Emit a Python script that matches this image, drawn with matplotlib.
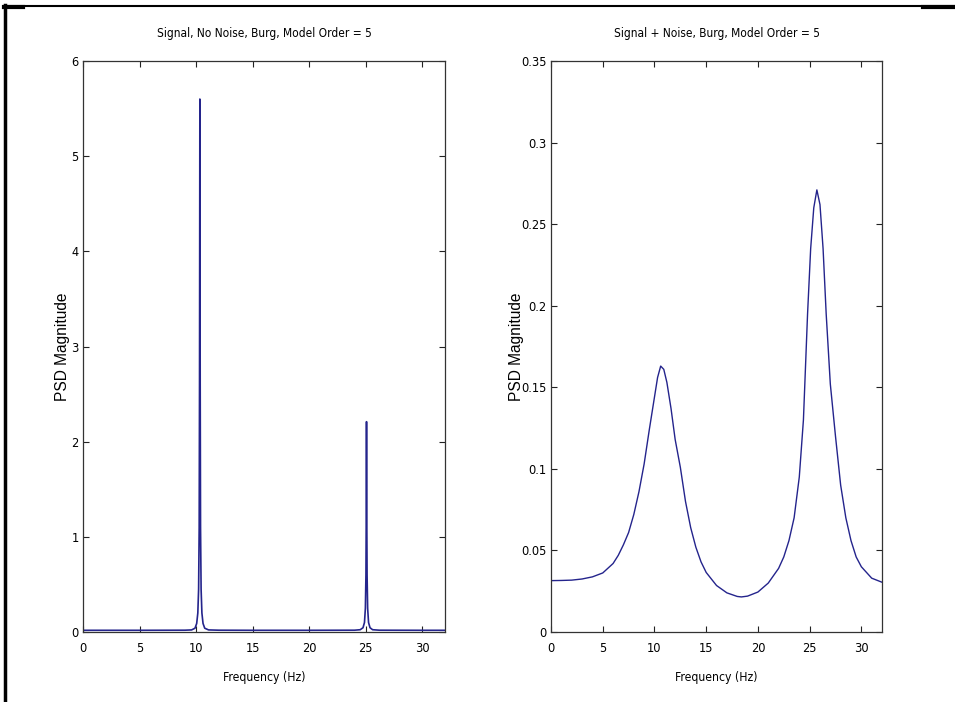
import matplotlib
matplotlib.use("Agg")
import matplotlib.pyplot as plt
from matplotlib import font_manager as fm
from matplotlib.lines import Line2D

# PSD, no noise (Burg, order 5) - very sharp peaks near 10.3 Hz and 25 Hz
freq_clean = [0, 5, 9.0, 9.6, 9.9, 10.05, 10.15, 10.22, 10.27, 10.30, 10.33, 10.36, 10.39,
              10.44, 10.51, 10.61, 10.76, 11.1, 12, 15, 20, 24.0, 24.5, 24.75, 24.88,
              24.96, 25.01, 25.035, 25.06, 25.085, 25.11, 25.16, 25.24, 25.37, 25.6, 26.2, 30, 32]
psd_clean = [0.018, 0.018, 0.019, 0.022, 0.04, 0.09, 0.2, 0.45, 1.1, 2.6, 5.6, 2.6, 1.1,
             0.45, 0.2, 0.09, 0.04, 0.022, 0.019, 0.018, 0.018, 0.019, 0.024, 0.045, 0.1,
             0.25, 0.6, 1.2, 2.21, 1.2, 0.6, 0.25, 0.1, 0.045, 0.024, 0.019, 0.018, 0.018]

# PSD, signal + noise (Burg, order 5) - broad peaks
freq_noisy = [0, 1, 2, 3, 4, 5, 6, 6.5, 7, 7.5, 8, 8.5, 9, 9.5, 10, 10.3, 10.6, 10.9,
              11.2, 11.6, 12, 12.5, 13, 13.5, 14, 14.5, 15, 16, 17, 18, 18.4, 19, 20, 21,
              22, 22.5, 23, 23.5, 24, 24.4, 24.8, 25.1, 25.4, 25.7, 26.0, 26.3, 26.6, 27.0,
              27.5, 28, 28.5, 29, 29.5, 30, 31, 32]
psd_noisy = [0.0315, 0.0316, 0.0318, 0.0325, 0.0338, 0.0362, 0.042, 0.047, 0.0535, 0.061,
             0.072, 0.086, 0.103, 0.124, 0.144, 0.156, 0.163, 0.161, 0.153, 0.137, 0.118,
             0.101, 0.080, 0.064, 0.052, 0.043, 0.0365, 0.0285, 0.024, 0.0218, 0.0215,
             0.022, 0.0245, 0.030, 0.039, 0.046, 0.056, 0.070, 0.095, 0.130, 0.195, 0.235,
             0.260, 0.271, 0.262, 0.235, 0.195, 0.152, 0.120, 0.090, 0.070, 0.056, 0.046,
             0.040, 0.033, 0.0305]

xticks = [0, 5, 10, 15, 20, 25, 30]
yticks_clean = [0, 1, 2, 3, 4, 5, 6]
yticks_noisy = [0, 0.05, 0.1, 0.15, 0.2, 0.25, 0.3, 0.35]
ytick_labels_noisy = ["0", "0.05", "0.1", "0.15", "0.2", "0.25", "0.3", "0.35"]

# look for a narrow/condensed face (matlab screenshot text is squeezed)
narrow_path = None
for f in fm.fontManager.ttflist:
    nm = (f.name + " " + f.fname).lower()
    if ("narrow" in nm or "condensed" in nm) and "bold" not in nm and "italic" not in nm \
            and "oblique" not in nm and f.weight in (400, "normal", "regular"):
        narrow_path = f.fname
        break

if narrow_path:
    def tfont(size):
        return fm.FontProperties(fname=narrow_path, size=size)
    tick_size, title_size, xl_size = 9.2, 8.6, 8.7
else:
    def tfont(size):
        return fm.FontProperties(family=["Liberation Sans", "DejaVu Sans"], size=size)
    tick_size, title_size, xl_size = 8, 7.5, 8

line_color = "#24248c"

fig = plt.figure(figsize=(9.55, 7.02), dpi=100)
fig.patch.set_facecolor("white")

ax1 = fig.add_axes([0.0869, 0.0997, 0.3791, 0.8134])
ax2 = fig.add_axes([0.577, 0.0997, 0.3466, 0.8134])

ax1.plot(freq_clean, psd_clean, color=line_color, linewidth=1.2)
ax2.plot(freq_noisy, psd_noisy, color=line_color, linewidth=1.0)

panels = [
    (ax1, "Signal, No Noise, Burg, Model Order = 5", (0, 6), yticks_clean,
     [str(v) for v in yticks_clean], -0.036),
    (ax2, "Signal + Noise, Burg, Model Order = 5", (0, 0.35), yticks_noisy,
     ytick_labels_noisy, -0.082),
]

for ax, title, ylim, yt, ytl, ylab_x in panels:
    ax.set_xlim(0, 32)
    ax.set_ylim(*ylim)
    ax.set_xticks(xticks)
    ax.set_xticklabels([str(v) for v in xticks], fontproperties=tfont(tick_size))
    ax.set_yticks(yt)
    ax.set_yticklabels(ytl, fontproperties=tfont(tick_size))
    # matlab style: ticks inside, box on
    ax.tick_params(direction="in", top=True, right=True, length=4.5, width=0.8,
                   colors="#222222", labelcolor="black")
    ax.tick_params(axis="x", pad=7)
    ax.tick_params(axis="y", pad=3)
    for pos in ["left", "right", "top", "bottom"]:
        ax.spines[pos].set_color("#333333")
        ax.spines[pos].set_linewidth(0.9)
    ax.set_title(title, fontproperties=tfont(title_size), pad=17)
    ax.set_xlabel("Frequency (Hz)", fontproperties=tfont(xl_size), labelpad=12)
    ax.set_ylabel("PSD Magnitude", family=["Liberation Sans", "DejaVu Sans"],
                  fontsize=11.2)
    ax.yaxis.set_label_coords(ylab_x, 0.5)

# frame lines around the screenshot (left and top edges)
fig.add_artist(Line2D([4.5 / 955, 4.5 / 955], [0, 1 - 5 / 702], transform=fig.transFigure,
                      color="black", linewidth=2.5))
fig.add_artist(Line2D([4 / 955, 1], [1 - 6 / 702, 1 - 6 / 702], transform=fig.transFigure,
                      color="black", linewidth=1.5))
fig.add_artist(Line2D([4 / 955, 23 / 955], [1 - 7 / 702, 1 - 7 / 702], transform=fig.transFigure,
                      color="black", linewidth=3))
fig.add_artist(Line2D([923 / 955, 1], [1 - 7 / 702, 1 - 7 / 702], transform=fig.transFigure,
                      color="black", linewidth=3))

plt.savefig("out.png", dpi=100)
